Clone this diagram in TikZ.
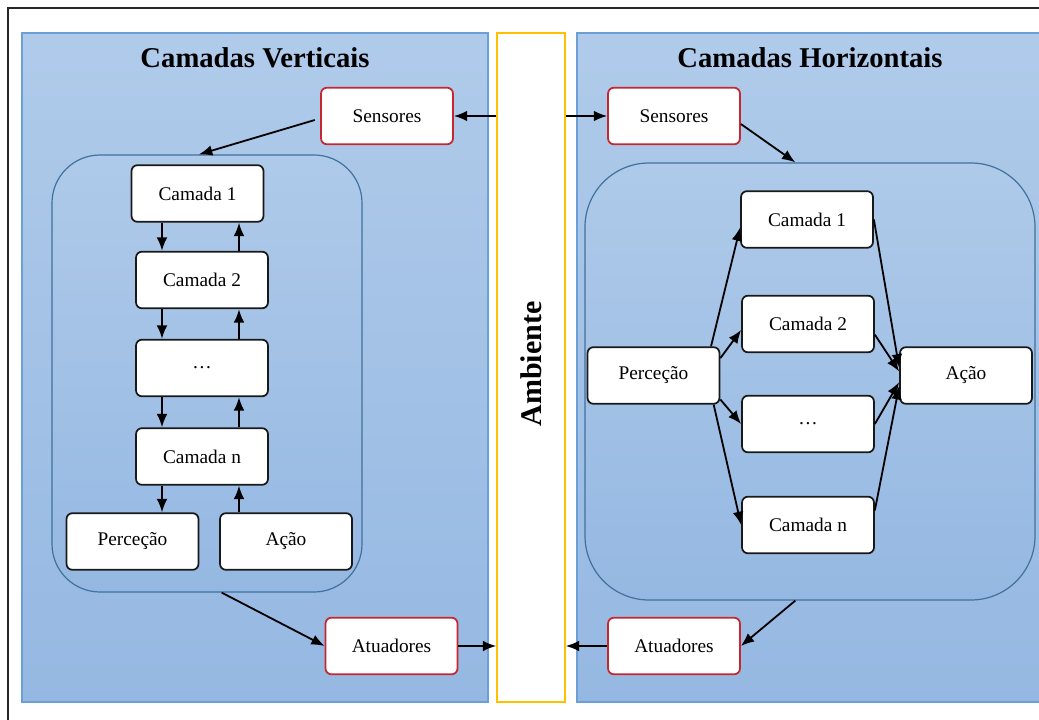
\documentclass[tikz,border=0pt]{standalone}
\usepackage{fontspec}
\setmainfont{Liberation Serif}
\usetikzlibrary{arrows.meta}
\definecolor{panelTop}{HTML}{B0CBEA}
\definecolor{panelBot}{HTML}{95B8E2}
\definecolor{panelEdge}{HTML}{6A9FD8}
\definecolor{groupEdge}{HTML}{41719C}
\definecolor{ioRed}{HTML}{C8262E}
\definecolor{envYellow}{HTML}{FFC000}
\tikzset{
  panel/.style={draw=panelEdge, line width=1.1pt, top color=panelTop, bottom color=panelBot},
  group/.style={draw=groupEdge, line width=0.9pt, top color=panelTop!95!panelBot, bottom color=panelBot, rounded corners=36pt, inner sep=0pt},
  layerbox/.style={draw=black!90, line width=1.3pt, fill=white, rounded corners=4.5pt,
    minimum width=99pt, minimum height=42.5pt, inner sep=0pt, font=\fontsize{14.5}{16}\selectfont},
  iobox/.style={layerbox, draw=ioRed},
  ttl/.style={font=\fontsize{21.5}{25}\selectfont\bfseries},
  arr/.style={-{Latex[length=10pt,width=8pt]}, line width=1.35pt},
}
\begin{document}
\begin{tikzpicture}[x=0.75pt,y=-0.75pt]
\useasboundingbox (0,0) rectangle (1039,720);
% outer frame (runs off the right and bottom edges)
\draw[line width=1.5pt, black!85] (8,740) -- (8,8) -- (1060,8);

% panels and the environment column
\draw[panel] (22,33) rectangle (488,702);
\draw[panel] (577,33) rectangle (1060,702);
\node[draw=envYellow, line width=1.1pt, fill=white, minimum width=51pt, minimum height=502pt, inner sep=0pt] (amb) at (531,367.5) {};
\node[font=\fontsize{22.5}{26}\selectfont\bfseries, rotate=90] (ambt) at (531,364) {Ambiente};

\node[ttl] (tv) at (255,58) {Camadas Verticais};
\node[ttl] (th) at (810,58) {Camadas Horizontais};

% ---- vertical layering ----
\node[group, minimum width=232.5pt, minimum height=327.75pt] (lc) at (207,373.5) {};
\node[iobox] (sl) at (387,116) {Sensores};
\node[iobox] (al) at (391.5,646) {Atuadores};
\node[layerbox] (l1) at (197.5,193.5) {Camada 1};
\node[layerbox] (l2) at (202,280) {Camada 2};
\node[layerbox] (l3) at (202,368) {\dots};
\node[layerbox] (ln) at (202,456.5) {Camada n};
\node[layerbox] (lp) at (132.5,541.5) {Perceção};
\node[layerbox] (la) at (286,541.5) {Ação};

\coordinate (dn) at (162,0);
\coordinate (up) at (239,0);
\draw[arr] (l1.south -| dn) -- (l2.north -| dn);
\draw[arr] (l2.south -| dn) -- (l3.north -| dn);
\draw[arr] (l3.south -| dn) -- (ln.north -| dn);
\draw[arr] (ln.south -| dn) -- (lp.north -| dn);
\draw[arr] (la.north -| up) -- (ln.south -| up);
\draw[arr] (ln.north -| up) -- (l3.south -| up);
\draw[arr] (l3.north -| up) -- (l2.south -| up);
\draw[arr] (l2.north -| up) -- (l1.south -| up);

\draw[arr] ([xshift=-4pt,yshift=-3pt]sl.west) -- ([xshift=-6pt]lc.north);
\draw[arr] ([xshift=11pt]lc.south) -- (al.west);
\draw[arr] (amb.west |- sl.east) -- (sl.east);
\draw[arr] (al.east) -- (amb.west |- al.east);

% ---- horizontal layering ----
\node[group, rounded corners=48pt, minimum width=337.5pt, minimum height=327.75pt] (rc) at (810,381.5) {};
\node[iobox] (sr) at (674,116) {Sensores};
\node[iobox] (ar) at (674,646) {Atuadores};
\node[layerbox] (r1) at (807,219.5) {Camada 1};
\node[layerbox] (r2) at (808,324) {Camada 2};
\node[layerbox] (r3) at (808,424) {\dots};
\node[layerbox] (rn) at (808,525) {Camada n};
\node[layerbox] (rp) at (653.5,375.5) {Perceção};
\node[layerbox] (ra) at (966,375.5) {Ação};

\draw[arr] ([xshift=-7pt]rp.north east) -- ([yshift=-6pt]r1.west);
\draw[arr] ([yshift=13pt]rp.east) -- ([yshift=-4.5pt]r2.west);
\draw[arr] ([yshift=-18pt]rp.east) -- (r3.west);
\draw[arr] ([xshift=-5pt]rp.south east) -- (rn.west);
\draw[arr] (r1.east) -- ([yshift=6pt]ra.west);
\draw[arr] ([yshift=-8pt]r2.east) -- ([yshift=3pt]ra.west);
\draw[arr] (r3.east) -- ([yshift=-5pt]ra.west);
\draw[arr] ([yshift=11pt]rn.east) -- ([yshift=-8pt]ra.west);

\draw[arr] ([yshift=-6pt]sr.east) -- ([xshift=-11pt]rc.north);
\draw[arr] ([xshift=-11pt]rc.south) -- (ar.east);
\draw[arr] (amb.east |- sr.west) -- (sr.west);
\draw[arr] (ar.west) -- (amb.east |- ar.west);
\end{tikzpicture}
\end{document}
